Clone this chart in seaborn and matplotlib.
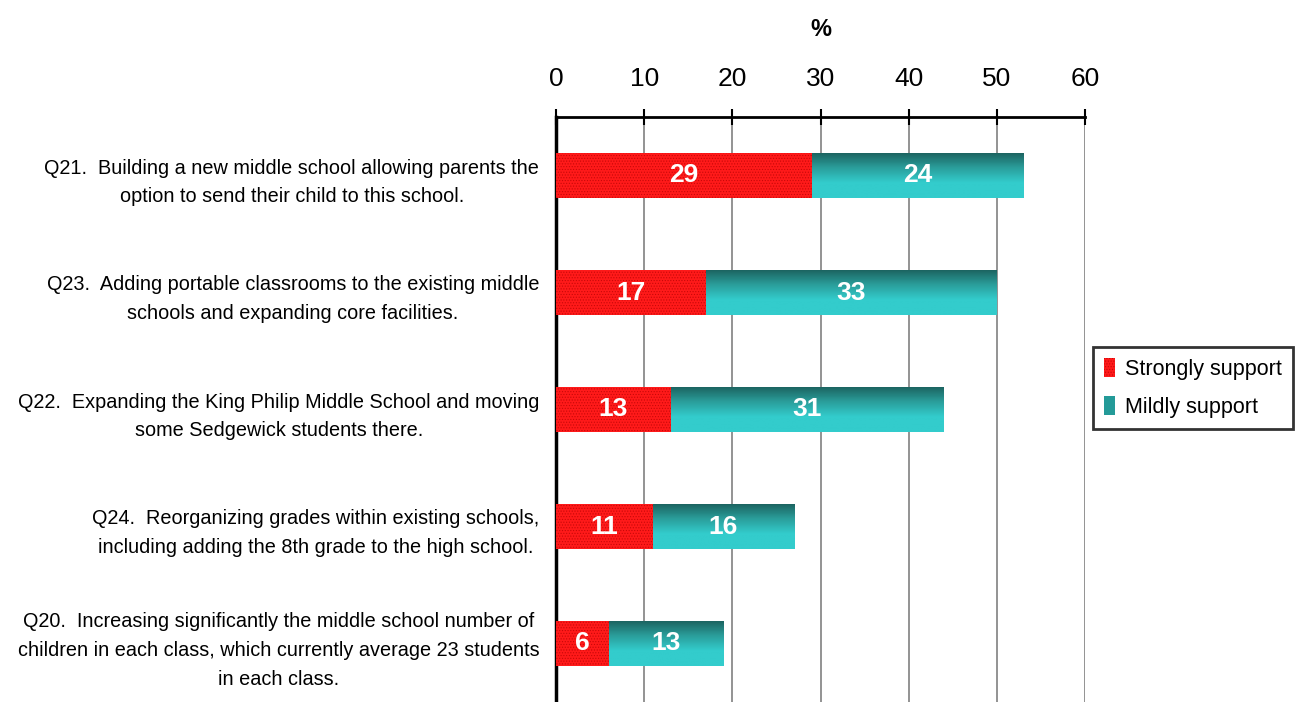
import numpy as np
import pandas as pd
import matplotlib
matplotlib.use("Agg")
import matplotlib.pyplot as plt
import seaborn as sns
from matplotlib.patches import Patch

questions = [
    "Q21.  Building a new middle school allowing parents the\noption to send their child to this school.",
    "Q23.  Adding portable classrooms to the existing middle\nschools and expanding core facilities.",
    "Q22.  Expanding the King Philip Middle School and moving\nsome Sedgewick students there.",
    "Q24.  Reorganizing grades within existing schools,\nincluding adding the 8th grade to the high school.",
    "Q20.  Increasing significantly the middle school number of\nchildren in each class, which currently average 23 students\nin each class.",
]
strongly = [29, 17, 13, 11, 6]
mildly = [24, 33, 31, 16, 13]
x_ticks = [0, 10, 20, 30, 40, 50, 60]

sns.set_style("white")
plt.rcParams['font.family'] = ['Liberation Sans', 'DejaVu Sans']
plt.rcParams['hatch.linewidth'] = 0.5
plt.rcParams['text.color'] = 'black'
plt.rcParams['xtick.color'] = 'black'
plt.rcParams['ytick.color'] = 'black'
plt.rcParams['axes.labelcolor'] = 'black'

df = pd.DataFrame({"question": questions, "strong": strongly, "mild": mildly})
df["total"] = df["strong"] + df["mild"]

fig = plt.figure(figsize=(13.03, 7.02), dpi=100)
ax = fig.add_axes([556/1303, 0.0, 529/1303, 1 - 117/702])

RED = "#ff1a1a"
TEAL_TOP = "#1b615e"
TEAL_BOT = "#33cccc"

sns.barplot(data=df, y="question", x="total", orient="h", color=TEAL_BOT,
            width=0.39, saturation=1, ax=ax, linewidth=0)
teal_patches = list(ax.patches)
sns.barplot(data=df, y="question", x="strong", orient="h", color=RED,
            width=0.39, saturation=1, ax=ax, linewidth=0)
red_patches = list(ax.patches)[len(teal_patches):]

# vertical gradient on the "mildly" part
cmap = matplotlib.colors.LinearSegmentedColormap.from_list(
    "teal", [TEAL_TOP, "#2a9d9a", TEAL_BOT, TEAL_BOT])
grad = np.linspace(0, 1, 64).reshape(-1, 1)
for p in teal_patches:
    x0, y0, w, h = p.get_x(), p.get_y(), p.get_width(), p.get_height()
    im = ax.imshow(grad, cmap=cmap, aspect="auto", extent=(x0, x0 + w, y0 + h, y0),
                   zorder=p.get_zorder() + 0.1)
    im.set_clip_path(p)

for p in red_patches:
    p.set_hatch("......")
    p.set_edgecolor("#c80808")
    p.set_linewidth(0)
    p.set_zorder(5)

ax.set_xlim(0, 60)
ax.set_ylim(len(questions) - 0.5, -0.5)

for i, (s, m) in enumerate(zip(strongly, mildly)):
    ax.text(s / 2, i, str(s), ha="center", va="center", color="white",
            fontsize=19, fontweight="bold", zorder=10)
    ax.text(s + m / 2, i, str(m), ha="center", va="center", color="white",
            fontsize=19, fontweight="bold", zorder=10)

ax.xaxis.tick_top()
ax.xaxis.set_label_position("top")
ax.set_xticks(x_ticks)
ax.set_xticklabels([str(t) for t in x_ticks], fontsize=19)
ax.tick_params(axis="x", direction="inout", length=12, width=1.5, pad=13, colors="black")
ax.set_xlabel("%", fontsize=17, fontweight="bold", labelpad=22)
ax.set_ylabel("")
ax.set_yticks(range(len(questions)))
ax.set_yticklabels(questions, fontsize=14.3, multialignment="center", linespacing=1.65)
ax.tick_params(axis="y", length=0, pad=12)
ax.set_yticks(np.arange(0.5, len(questions) - 0.5, 1), minor=True)
ax.tick_params(axis="y", which="minor", length=6, width=1, color="black", direction="out")

ax.grid(axis="x", color="#808080", linewidth=1.2)
ax.set_axisbelow(True)
for side in ["right", "bottom"]:
    ax.spines[side].set_visible(False)
ax.spines["top"].set_linewidth(2)
ax.spines["left"].set_linewidth(2.5)
ax.spines["top"].set_color("black")
ax.spines["left"].set_color("black")

handles = [Patch(facecolor=RED, edgecolor="#c80808", hatch="......", linewidth=0),
           Patch(facecolor="#239a98", linewidth=0)]
leg = fig.legend(handles, ["Strongly support", "Mildly support"], loc="upper left",
                 bbox_to_anchor=(1093/1303, 1 - 347/702), fontsize=15.5, frameon=True,
                 fancybox=False, edgecolor="black", handlelength=0.5, handleheight=1.0,
                 handletextpad=0.5, borderpad=0.5, labelspacing=0.75, borderaxespad=0)
leg.get_frame().set_linewidth(2)

fig.savefig("out.png", dpi=100)
